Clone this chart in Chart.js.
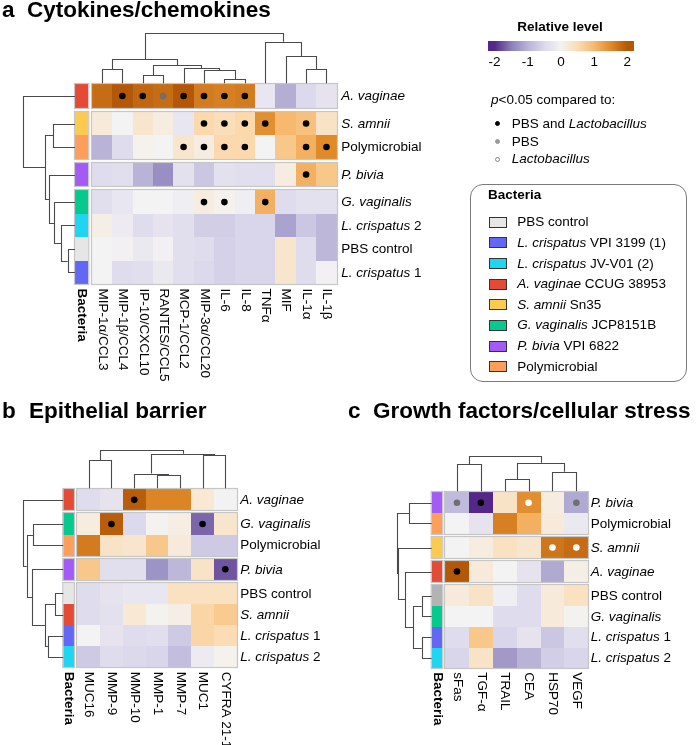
<!DOCTYPE html>
<html><head><meta charset="utf-8">
<script src="https://cdn.jsdelivr.net/npm/chart.js@4/dist/chart.umd.min.js"></script>
<style>
html,body{margin:0;padding:0;background:#fff;}
#wrap{position:relative;width:698px;height:745px;overflow:hidden;font-family:"Liberation Sans",Arial,sans-serif;color:#000;}
canvas.cv{position:absolute;left:0;top:0;}
.t{position:absolute;white-space:nowrap;}
.title{font-weight:bold;font-size:22.5px;line-height:22.5px;}
.lg{font-size:13.5px;line-height:16px;}
.dot{position:absolute;width:5px;height:5px;border-radius:50%;box-sizing:border-box;}
.sw{position:absolute;width:18px;height:11px;box-sizing:border-box;border:1px solid #333;}
#box{position:absolute;left:470px;top:184px;width:217px;height:198px;box-sizing:border-box;border:1px solid #7a7a7a;border-radius:13px;}
#cbar{position:absolute;left:488px;top:41px;width:146px;height:10px;}
</style></head>
<body><div id="wrap">
<canvas class="cv" id="ca" width="698" height="745"></canvas>
<canvas class="cv" id="cb" width="698" height="745"></canvas>
<canvas class="cv" id="cc" width="698" height="745"></canvas>

<div class="t title" style="left:2px;top:-1px;">a</div>
<div class="t title" style="left:27px;top:-1px;">Cytokines/chemokines</div>
<div class="t title" style="left:2px;top:400px;">b</div>
<div class="t title" style="left:29px;top:400px;">Epithelial barrier</div>
<div class="t title" style="left:348px;top:400px;">c</div>
<div class="t title" style="left:373px;top:400px;">Growth factors/cellular stress</div>

<div class="t lg" style="left:460px;width:200px;text-align:center;top:19px;font-weight:bold;">Relative level</div>
<div id="cbar"></div>
<div id="cticks"></div>
<div class="t lg" style="left:491px;top:92px;"><i>p</i>&lt;0.05 compared to:</div>
<div id="siglg"></div>
<div id="box"></div>
<div class="t lg" style="left:488px;top:187px;font-weight:bold;">Bacteria</div>
<div id="baclg"></div>
</div>
<script>
// ---------- shared data ----------
const scaleTicks = [-2, -1, 0, 1, 2];
const colorStops = [[-2.0,'#542788'],[-1.5,'#8b7fba'],[-1.0,'#b9b3d8'],[-0.5,'#dcd9ec'],[0,'#f4f3f3'],[0.5,'#fbdcb4'],[1.0,'#f6b96e'],[1.5,'#e08a2a'],[2.0,'#b35806']];
const sigLegend = ['PBS and <i>Lactobacillus</i>', 'PBS', '<i>Lactobacillus</i>'];
const bacteriaLegend = ['PBS control','<i>L. crispatus</i> VPI 3199 (1)','<i>L. crispatus</i> JV-V01 (2)','<i>A. vaginae</i> CCUG 38953','<i>S. amnii</i> Sn35','<i>G. vaginalis</i> JCP8151B','<i>P. bivia</i> VPI 6822','Polymicrobial'];
const bacteriaColors = ['#e6e6e6','#6268f4','#1fd5f0','#e34b36','#fdca50','#06c98e','#a45bf6','#fd9f5b'];

// ---------- panel a ----------
const colsA = ['MIP-1α/CCL3','MIP-1β/CCL4','IP-10/CXCL10','RANTES/CCL5','MCP-1/CCL2','MIP-3α/CCL20','IL-6','IL-8','TNFα','MIF','IL-1α','IL-1β'];
const rowsA = ['<i>A. vaginae</i>','<i>S. amnii</i>','Polymicrobial','<i>P. bivia</i>','<i>G. vaginalis</i>','<i>L. crispatus</i> 2','PBS control','<i>L. crispatus</i> 1'];
const groupsA = [1,2,2,3,4,4,4,4];
const annotA = ['#e34b36','#fdca50','#fd9f5b','#a45bf6','#06c98e','#1fd5f0','#e6e6e6','#6268f4'];
const valuesA = [
  [1.8, 2.0, 1.85, 1.8, 2.0, 1.65, 1.6, 1.65, -0.25, -1.05, -0.5, -0.3],
  [0.2, 0.0, 0.3, 0.15, -0.25, 0.55, 0.45, 0.55, 1.45, 1.0, 0.9, 0.35],
  [-1.0, -0.45, 0.05, 0.0, 0.3, 0.15, 0.55, 0.55, 0.0, 0.8, 1.1, 1.5],
  [-0.45, -0.4, -1.0, -1.35, -0.35, -0.75, -0.35, -0.4, -0.4, 0.15, 1.1, 0.8],
  [-0.4, -0.25, 0.0, 0.0, -0.1, 0.15, 0.05, -0.1, 1.1, -0.45, -0.35, -0.35],
  [0.1, -0.15, -0.45, -0.3, -0.4, -0.65, -0.65, -0.55, -0.55, -1.15, -0.75, -0.95],
  [0.0, -0.05, -0.2, -0.05, -0.4, -0.45, -0.6, -0.55, -0.55, 0.3, -0.45, -0.95],
  [0.0, -0.45, -0.4, -0.2, -0.4, -0.5, -0.6, -0.55, -0.55, 0.3, -0.45, -0.05]
];
const sigA = [
  [0,1,1,2,1,1,1,1,0,0,0,0],
  [0,0,0,0,0,1,1,1,1,0,1,0],
  [0,0,0,0,1,1,1,1,0,0,1,1],
  [0,0,0,0,0,0,0,0,0,0,1,0],
  [0,0,0,0,0,1,1,0,1,0,0,0],
  [0,0,0,0,0,0,0,0,0,0,0,0],
  [0,0,0,0,0,0,0,0,0,0,0,0],
  [0,0,0,0,0,0,0,0,0,0,0,0]
];
const colTreeA = [[6,7,0.079],[2,3,0.158],[5,12,0.262],[4,14,0.30],[0,1,0.276],[10,11,0.276],[13,15,0.36],[16,18,0.473],[9,17,0.538],[8,20,0.822],[19,21,1.0]];
const rowTreeA = [[6,7,0.141],[5,8,0.271],[4,9,0.40],[3,10,0.497],[1,2,0.42],[12,11,0.58],[0,13,1.0]];

// ---------- panel b ----------
const colsB = ['MUC16','MMP-9','MMP-10','MMP-1','MMP-7','MUC1','CYFRA 21-1'];
const rowsB = ['<i>A. vaginae</i>','<i>G. vaginalis</i>','Polymicrobial','<i>P. bivia</i>','PBS control','<i>S. amnii</i>','<i>L. crispatus</i> 1','<i>L. crispatus</i> 2'];
const groupsB = [1,2,2,3,4,4,4,4];
const annotB = ['#e34b36','#06c98e','#fd9f5b','#a45bf6','#e6e6e6','#e34b36','#6268f4','#1fd5f0'];
const valuesB = [
  [-0.45, -0.3, 1.95, 1.55, 1.55, 0.25, -0.02],
  [0.15, 1.95, -0.5, 0.02, 0.12, -1.65, 0.3],
  [1.65, 0.35, 0.3, 0.8, 0.2, -0.7, -0.7],
  [0.8, -0.4, -0.4, -1.3, -0.95, 0.35, -1.75],
  [-0.45, -0.3, -0.25, -0.25, 0.4, 0.4, 0.4],
  [-0.45, -0.35, 0.25, 0.03, 0.1, 0.6, 0.75],
  [0.0, -0.3, -0.45, -0.4, -0.7, 0.6, 0.5],
  [-0.7, -0.45, -0.5, -0.55, -0.85, -0.15, 0.05]
];
const sigB = [
  [0,0,1,0,0,0,0],
  [0,1,0,0,0,1,0],
  [0,0,0,0,0,0,0],
  [0,0,0,0,0,0,1],
  [0,0,0,0,0,0,0],
  [0,0,0,0,0,0,0],
  [0,0,0,0,0,0,0],
  [0,0,0,0,0,0,0]
];
const colTreeB = [[0,1,0.728],[3,4,0.346],[2,8,0.382],[5,6,0.855],[9,10,0.898],[7,11,1.0]];
const rowTreeB = [[4,5,0.21],[6,7,0.375],[8,9,0.46],[3,10,0.78],[1,2,0.75],[12,11,0.915],[0,13,1.0]];

// ---------- panel c ----------
const colsC = ['sFas','TGF-α','TRAIL','CEA','HSP70','VEGF'];
const rowsC = ['<i>P. bivia</i>','Polymicrobial','<i>S. amnii</i>','<i>A. vaginae</i>','PBS control','<i>G. vaginalis</i>','<i>L. crispatus</i> 1','<i>L. crispatus</i> 2'];
const groupsC = [1,1,2,3,4,4,4,4];
const annotC = ['#a45bf6','#fd9f5b','#fdca50','#e34b36','#b3b3b3','#06c98e','#6268f4','#1fd5f0'];
const valuesC = [
  [-0.9, -2.0, 0.35, 1.45, 0.15, -1.1],
  [0.0, -0.3, 1.6, 1.1, 0.2, -0.2],
  [0.0, 0.15, 0.4, 0.3, 1.7, 1.8],
  [2.0, 0.2, 0.0, -0.3, -1.1, 0.1],
  [0.2, 0.35, -0.1, -0.45, 0.2, 0.4],
  [0.0, 0.0, -0.45, -0.45, 0.2, 0.03],
  [-0.45, 0.8, -0.55, -0.3, -0.75, -0.4],
  [-0.55, 0.35, -1.25, -1.0, -0.65, -0.55]
];
const sigC = [
  [2,1,0,3,0,2],
  [0,0,0,0,0,0],
  [0,0,0,0,3,3],
  [1,0,0,0,0,0],
  [0,0,0,0,0,0],
  [0,0,0,0,0,0],
  [0,0,0,0,0,0],
  [0,0,0,0,0,0]
];
const colTreeC = [[0,1,0.767],[2,3,0.346],[4,5,0.562],[7,8,0.815],[6,9,1.0]];
const rowTreeC = [[4,5,0.286],[6,7,0.286],[8,9,0.524],[3,10,0.762],[0,1,0.64],[2,11,0.95],[12,13,1.0]];

// ---------- helpers ----------
const FONT = '"Liberation Sans", Arial, sans-serif';
function hex2rgb(h){return [parseInt(h.slice(1,3),16),parseInt(h.slice(3,5),16),parseInt(h.slice(5,7),16)];}
function colorFor(v){
  if (v <= colorStops[0][0]) return colorStops[0][1];
  for (let k=1;k<colorStops.length;k++){
    if (v <= colorStops[k][0]){
      const [v0,c0]=colorStops[k-1],[v1,c1]=colorStops[k];
      const t=(v-v0)/(v1-v0), a=hex2rgb(c0), b=hex2rgb(c1);
      return 'rgb('+a.map((x,i)=>Math.round(x+(b[i]-x)*t)).join(',')+')';
    }
  }
  return colorStops[colorStops.length-1][1];
}
function parseRich(s){
  const out=[]; const re=/<i>(.*?)<\/i>/g; let last=0,m;
  while((m=re.exec(s))){ if(m.index>last) out.push({t:s.slice(last,m.index),it:false}); out.push({t:m[1],it:true}); last=re.lastIndex; }
  if(last<s.length) out.push({t:s.slice(last),it:false});
  return out;
}
function drawRich(ctx,s,x,y,size){
  let cx=x;
  for(const seg of parseRich(s)){
    ctx.font=(seg.it?'italic ':'')+size+'px '+FONT;
    ctx.fillText(seg.t,cx,y); cx+=ctx.measureText(seg.t).width;
  }
}
const sigFill = {1:'#000000',2:'#6f6f6f',3:'#ffffff'};

function treePositions(tree, leafPos){
  const pos=leafPos.slice(), h=leafPos.map(()=>0);
  tree.forEach(([a,b,hh])=>{ pos.push((pos[a]+pos[b])/2); h.push(hh); });
  return {pos,h};
}

function makePanel(id, P){
  const n=P.rows.length, m=P.cols.length;
  const rpos=[]; let g=0;
  for(let i=0;i<n;i++){ if(i>0 && P.groups[i]!==P.groups[i-1]) g++; rpos.push(i+g*P.gapFrac); }
  const ymax=rpos[n-1]+0.5;
  const pts=[], fills=[], borders=[];
  P.sig.forEach((row,i)=>row.forEach((s,j)=>{ if(s){ pts.push({x:j,y:rpos[i]}); fills.push(sigFill[s]); borders.push(sigFill[s]); } }));

  const heat = {
    id:'heat'+id,
    beforeDatasetsDraw(chart){
      const ctx=chart.ctx, xs=chart.scales.x, ys=chart.scales.y;
      const X=v=>xs.getPixelForValue(v), Y=v=>ys.getPixelForValue(v);
      ctx.save();
      for(let i=0;i<n;i++) for(let j=0;j<m;j++){
        const x0=Math.round(X(j-0.5)), x1=Math.round(X(j+0.5)), y0=Math.round(Y(rpos[i]-0.5)), y1=Math.round(Y(rpos[i]+0.5));
        ctx.fillStyle=colorFor(P.values[i][j]);
        ctx.fillRect(x0,y0,x1-x0,y1-y0);
      }
      for(let i=0;i<n;i++){
        const y0=Math.round(Y(rpos[i]-0.5)), y1=Math.round(Y(rpos[i]+0.5));
        ctx.fillStyle=P.annot[i];
        ctx.fillRect(P.annX[0],y0,P.annX[1]-P.annX[0],y1-y0);
      }
      ctx.strokeStyle='#c6c6c6'; ctx.lineWidth=1.2;
      let s=0;
      for(let i=1;i<=n;i++){
        if(i===n || P.groups[i]!==P.groups[i-1]){
          const y0=Math.round(Y(rpos[s]-0.5)), y1=Math.round(Y(rpos[i-1]+0.5));
          ctx.strokeRect(Math.round(X(-0.5))-0.5,y0-0.5,Math.round(X(m-0.5))-Math.round(X(-0.5))+1,y1-y0+1);
          ctx.strokeRect(P.annX[0]-0.5,y0-0.5,P.annX[1]-P.annX[0]+1,y1-y0+1);
          s=i;
        }
      }
      ctx.strokeStyle='#4a4a4a'; ctx.lineWidth=1.1; ctx.lineCap='butt';
      const top=Y(-0.5)-1;
      const ct=treePositions(P.colTree, P.cols.map((_,j)=>j));
      const cy=hh=>top-hh*P.colDendH;
      ctx.beginPath();
      P.colTree.forEach(([a,b,hh])=>{
        const xa=Math.round(X(ct.pos[a]))+0.5, xb=Math.round(X(ct.pos[b]))+0.5, yy=Math.round(cy(hh))+0.5;
        ctx.moveTo(xa,cy(ct.h[a])); ctx.lineTo(xa,yy); ctx.lineTo(xb,yy); ctx.lineTo(xb,cy(ct.h[b]));
      });
      ctx.stroke();
      const rt=treePositions(P.rowTree, rpos);
      const rx=hh=>P.annX[0]-hh*P.rowDendW;
      ctx.beginPath();
      P.rowTree.forEach(([a,b,hh])=>{
        const ya=Math.round(Y(rt.pos[a]))+0.5, yb=Math.round(Y(rt.pos[b]))+0.5, xx=Math.round(rx(hh))+0.5;
        ctx.moveTo(rx(rt.h[a]),ya); ctx.lineTo(xx,ya); ctx.lineTo(xx,yb); ctx.lineTo(rx(rt.h[b]),yb);
      });
      ctx.stroke();
      ctx.fillStyle='#000'; ctx.textBaseline='middle'; ctx.textAlign='left';
      const lx=X(m-0.5)+P.rowLabOff;
      for(let i=0;i<n;i++) drawRich(ctx,P.rows[i],lx,Y(rpos[i])+0.5,13.5);
      const ly=Y(ymax)+P.colLabOff;
      ctx.font='13.5px '+FONT;
      for(let j=0;j<m;j++){
        ctx.save(); ctx.translate(X(j)+0.5,ly); ctx.rotate(Math.PI/2); ctx.fillText(P.cols[j],0,0); ctx.restore();
      }
      ctx.font='bold 13.5px '+FONT;
      ctx.save(); ctx.translate((P.annX[0]+P.annX[1])/2+0.5,ly); ctx.rotate(Math.PI/2); ctx.fillText('Bacteria',0,0); ctx.restore();
      ctx.restore();
    }
  };

  new Chart(document.getElementById(id), {
    type:'scatter',
    data:{datasets:[{data:pts, pointRadius:3.3, pointHoverRadius:3.3, pointBackgroundColor:fills, pointBorderColor:borders, pointBorderWidth:0}]},
    options:{
      responsive:false, animation:false, devicePixelRatio:1, events:[],
      layout:{padding:P.pad},
      plugins:{legend:{display:false}, tooltip:{enabled:false}},
      scales:{
        x:{type:'linear', min:-0.5, max:m-0.5, display:false},
        y:{type:'linear', min:-0.5, max:ymax, reverse:true, display:false}
      }
    },
    plugins:[heat]
  });
}

makePanel('ca',{rows:rowsA,cols:colsA,groups:groupsA,annot:annotA,values:valuesA,sig:sigA,colTree:colTreeA,rowTree:rowTreeA,
  gapFrac:0.178, pad:{left:91.7,right:361.3,top:84.3,bottom:461}, annX:[75,88.3], colDendH:50.5, rowDendW:51.7, rowLabOff:4.5, colLabOff:4.5});
makePanel('cb',{rows:rowsB,cols:colsB,groups:groupsB,annot:annotB,values:valuesB,sig:sigB,colTree:colTreeB,rowTree:rowTreeB,
  gapFrac:0.145, pad:{left:77.3,right:461.3,top:489.3,bottom:77.7}, annX:[63.3,74], colDendH:38.5, rowDendW:40, rowLabOff:3.5, colLabOff:4.5});
makePanel('cc',{rows:rowsC,cols:colsC,groups:groupsC,annot:annotC,values:valuesC,sig:sigC,colTree:colTreeC,rowTree:rowTreeC,
  gapFrac:0.154, pad:{left:445,right:109.7,top:492.3,bottom:76.7}, annX:[431.7,442.3], colDendH:35, rowDendW:35, rowLabOff:2.5, colLabOff:4});

// ---------- legends ----------
(function(){
  const lo=-2.2, hi=2.2, L=488, W=146;
  const st=[]; for(let k=0;k<=44;k++){ const v=lo+(hi-lo)*k/44; st.push(colorFor(v)+' '+(k/44*100).toFixed(1)+'%'); }
  document.getElementById('cbar').style.background='linear-gradient(to right,'+st.join(',')+')';
  const ct=document.getElementById('cticks');
  scaleTicks.forEach(v=>{
    const d=document.createElement('div'); d.className='t lg';
    const cx=L+(v-lo)/(hi-lo)*W;
    d.style.left=(cx-20)+'px'; d.style.width='40px'; d.style.textAlign='center'; d.style.top='54px';
    d.textContent=String(v); ct.appendChild(d);
  });
  const sg=document.getElementById('siglg');
  const dotStyles=[['#000','#000'],['#999','#999'],['#fff','#888']];
  sigLegend.forEach((s,k)=>{
    const cy=[123.7,141.7,159][k];
    const d=document.createElement('div'); d.className='dot';
    d.style.left=(497-2.5)+'px'; d.style.top=(cy-2.5)+'px'; d.style.background=dotStyles[k][0]; d.style.border='1px solid '+dotStyles[k][1];
    sg.appendChild(d);
    const t=document.createElement('div'); t.className='t lg'; t.style.left='511.7px'; t.style.top=(cy-8)+'px'; t.innerHTML=s; sg.appendChild(t);
  });
  const bl=document.getElementById('baclg');
  bacteriaLegend.forEach((s,k)=>{
    const cy=222.3+k*20.63;
    const d=document.createElement('div'); d.className='sw';
    d.style.left='489px'; d.style.top=(cy-5.5)+'px'; d.style.background=bacteriaColors[k]; bl.appendChild(d);
    const t=document.createElement('div'); t.className='t lg'; t.style.left='517.3px'; t.style.top=(cy-8)+'px'; t.innerHTML=s; bl.appendChild(t);
  });
})();
</script>
</body></html>
